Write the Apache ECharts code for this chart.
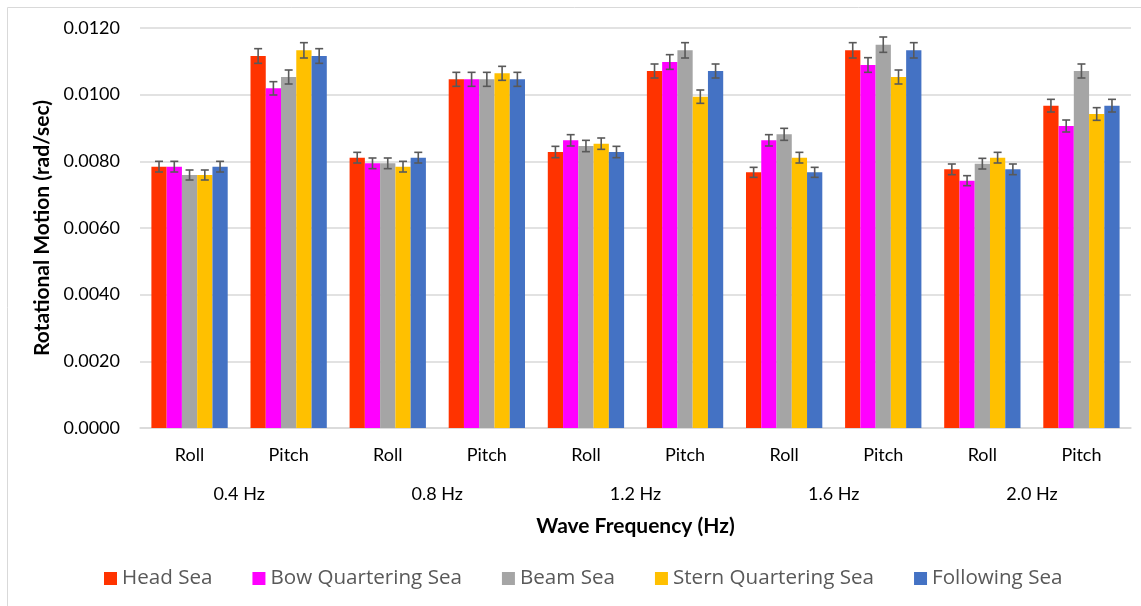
<!DOCTYPE html>
<html>
<head>
<meta charset="utf-8">
<script src="https://cdn.jsdelivr.net/npm/echarts@6/dist/echarts.min.js"></script>
<style>html,body{margin:0;padding:0;background:#fff}#c{width:1141px;height:606px}</style>
</head>
<body>
<div id="c"></div>
<script>
const motions = ['Roll','Pitch','Roll','Pitch','Roll','Pitch','Roll','Pitch','Roll','Pitch'];
const frequencies = ['0.4 Hz','0.8 Hz','1.2 Hz','1.6 Hz','2.0 Hz'];
const seriesNames = ['Head Sea','Bow Quartering Sea','Beam Sea','Stern Quartering Sea','Following Sea'];
const yTicks = {min: 0, max: 0.012, interval: 0.002};

const headSea      = [0.00784,0.01116,0.00811,0.01046,0.00828,0.01071,0.00767,0.01133,0.00776,0.00967];
const headErr      = [0.00016,0.00022,0.00016,0.00021,0.00017,0.00021,0.00015,0.00023,0.00016,0.00019];
const bowSea       = [0.00784,0.01019,0.00794,0.01046,0.00863,0.01098,0.00863,0.01089,0.00742,0.00906];
const bowErr       = [0.00016,0.00020,0.00016,0.00021,0.00017,0.00022,0.00017,0.00022,0.00015,0.00018];
const beamSea      = [0.00759,0.01053,0.00794,0.01046,0.00846,0.01133,0.00881,0.01150,0.00793,0.01071];
const beamErr      = [0.00015,0.00021,0.00016,0.00021,0.00017,0.00023,0.00018,0.00023,0.00016,0.00021];
const sternSea     = [0.00759,0.01133,0.00784,0.01064,0.00853,0.00994,0.00811,0.01053,0.00811,0.00942];
const sternErr     = [0.00015,0.00023,0.00016,0.00021,0.00017,0.00020,0.00016,0.00021,0.00016,0.00019];
const followingSea = [0.00784,0.01116,0.00811,0.01046,0.00828,0.01071,0.00767,0.01133,0.00776,0.00967];
const followingErr = [0.00016,0.00022,0.00016,0.00021,0.00017,0.00021,0.00015,0.00023,0.00016,0.00019];

const values = [headSea, bowSea, beamSea, sternSea, followingSea];
const errors = [headErr, bowErr, beamErr, sternErr, followingErr];
const colors = ['#FF3300','#FF00FF','#A5A5A5','#FFC000','#4472C4'];
const GAP = 0.23;
const N = values.length;

const chart = echarts.init(document.getElementById('c'), null, {renderer:'canvas'});

const series = [];
values.forEach((vals, si) => {
  series.push({
    name: seriesNames[si], type: 'bar', data: vals,
    xAxisIndex: 0, yAxisIndex: 0,
    barGap: '0%', barCategoryGap: (GAP*100) + '%',
    itemStyle: {color: colors[si]},
    emphasis: {disabled: true}
  });
});
values.forEach((vals, si) => {
  series.push({
    name: 'err' + si, type: 'custom', xAxisIndex: 0, yAxisIndex: 0, z: 10,
    data: vals.map((v, i) => [i, v, errors[si][i]]),
    encode: {x: 0, y: 1},
    renderItem: function (params, api) {
      const x = api.value(0), y = api.value(1), e = api.value(2);
      const top = api.coord([x, y + e]);
      const bot = api.coord([x, y - e]);
      const catW = api.size([1, 0])[0];
      const bw = catW * (1 - GAP) / N;
      const cx = top[0] + (si - (N - 1) / 2) * bw;
      const hw = 4;
      const st = {stroke: '#595959', lineWidth: 1.6};
      return {type: 'group', children: [
        {type: 'line', shape: {x1: cx, y1: top[1], x2: cx, y2: bot[1]}, style: st},
        {type: 'line', shape: {x1: cx - hw, y1: top[1], x2: cx + hw, y2: top[1]}, style: st},
        {type: 'line', shape: {x1: cx - hw, y1: bot[1], x2: cx + hw, y2: bot[1]}, style: st}
      ]};
    }
  });
});

chart.setOption({
  animation: false,
  textStyle: {fontFamily: 'Lato'},
  grid: {left: 140, right: 10, top: 28, bottom: 178, containLabel: false},
  graphic: [{type: 'rect', shape: {x: 7.5, y: 7.5, width: 1140, height: 610}, style: {fill: 'none', stroke: '#D9D9D9', lineWidth: 1}, silent: true}],
  legend: {
    data: seriesNames, bottom: 12, left: 99,
    icon: 'rect', itemWidth: 13, itemHeight: 13, itemGap: 40,
    textStyle: {fontFamily: 'Open Sans', fontSize: 20.6, color: '#595959'}
  },
  xAxis: [{
    type: 'category', data: motions, gridIndex: 0,
    axisLine: {lineStyle: {color: '#D9D9D9', width: 1.5}},
    axisTick: {show: false},
    axisLabel: {color: '#000', fontSize: 18, margin: 18},
    name: 'Wave Frequency (Hz)', nameLocation: 'middle', nameGap: 88,
    nameTextStyle: {fontSize: 21, fontWeight: 'bold', color: '#000'}
  }, {
    type: 'category', data: frequencies, gridIndex: 0, position: 'bottom', offset: 39,
    axisLine: {show: false}, axisTick: {show: false},
    axisLabel: {color: '#000', fontSize: 18, margin: 18}
  }],
  yAxis: {
    type: 'value', min: yTicks.min, max: yTicks.max, interval: yTicks.interval,
    axisLine: {show: false}, axisTick: {show: false},
    splitLine: {lineStyle: {color: '#D9D9D9', width: 1.5}},
    axisLabel: {color: '#000', fontSize: 18, margin: 20, formatter: v => v.toFixed(4)},
    name: 'Rotational Motion (rad/sec)', nameLocation: 'middle', nameGap: 81,
    nameTextStyle: {fontSize: 21, fontWeight: 'bold', color: '#000'}
  },
  series: series
});
</script>
</body>
</html>
